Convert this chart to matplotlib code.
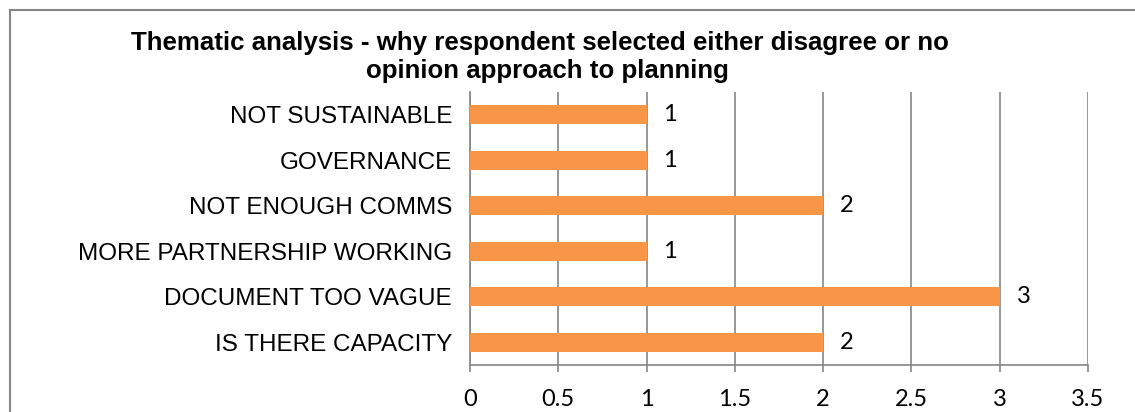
"""Thematic analysis bar chart"""

import matplotlib.pyplot as plt
from matplotlib.patches import Rectangle

# categories listed bottom to top, with their counts
categories = ["IS THERE CAPACITY", "DOCUMENT TOO VAGUE", "MORE PARTNERSHIP WORKING",
              "NOT ENOUGH COMMS", "GOVERNANCE", "NOT SUSTAINABLE"]
counts = [2, 3, 1, 2, 1, 1]
x_ticks = [0, 0.5, 1, 1.5, 2, 2.5, 3, 3.5]
x_tick_labels = ["0", "0.5", "1", "1.5", "2", "2.5", "3", "3.5"]

title_lines = ["Thematic analysis - why respondent selected either disagree or no",
               "opinion approach to planning"]

bar_color = "#F79646"
grid_color = "#868686"

fig = plt.figure(figsize=(11.35, 4.12), dpi=100)

# outer chart border
fig.patches.append(Rectangle((10 / 1135, -0.1), 1.2, 1 - 10 / 412 + 0.1,
                             transform=fig.transFigure, fill=False,
                             edgecolor=grid_color, linewidth=1.5))

ax = fig.add_axes([470 / 1135, 47 / 412, 618 / 1135, 273 / 412])

ypos = list(range(len(categories)))
ax.barh(ypos, counts, height=0.41, color=bar_color, zorder=3)

for y, v in zip(ypos, counts):
    ax.text(v + 0.095, y, str(v), va="center", ha="left",
            fontsize=17, family="Lato", color="black")

ax.set_xlim(0, 3.5)
ax.set_ylim(-0.5, len(categories) - 0.5)
ax.set_xticks(x_ticks)
ax.set_xticklabels(x_tick_labels, fontsize=17, family="Lato")
ax.set_yticks(ypos)
ax.set_yticklabels(categories, fontsize=17.5, family="Liberation Sans")

ax.grid(axis="x", color=grid_color, linewidth=1.2, zorder=0)
ax.tick_params(axis="x", length=5, width=1.2, color=grid_color, pad=12)
ax.tick_params(axis="y", length=0, pad=13)

for side in ["top", "right"]:
    ax.spines[side].set_visible(False)
for side in ["left", "bottom"]:
    ax.spines[side].set_color(grid_color)
    ax.spines[side].set_linewidth(1.2)

# two-line title, each line centred on its own
fig.text(540 / 1135, 1 - 50 / 412, title_lines[0], ha="center", va="baseline",
         fontsize=18.6, fontweight="bold", family="Liberation Sans")
fig.text(547 / 1135, 1 - 78 / 412, title_lines[1], ha="center", va="baseline",
         fontsize=18.6, fontweight="bold", family="Liberation Sans")

fig.savefig("out.png", dpi=100)
